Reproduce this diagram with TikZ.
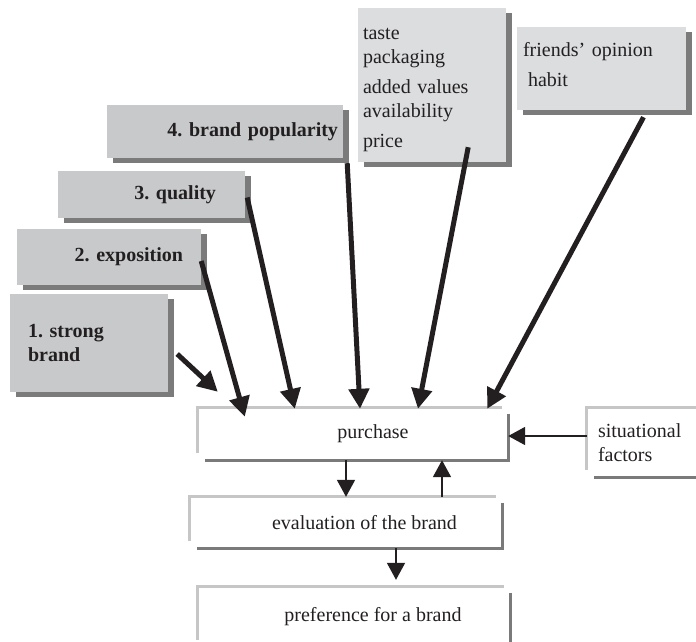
\documentclass[tikz,border=0pt]{standalone}
\usepackage{fontspec}
\setmainfont{Liberation Serif}
\usepackage{tikz}
\usetikzlibrary{arrows.meta,shadows}
\frenchspacing

\definecolor{boxgrey}{HTML}{C8C9CB}
\definecolor{palegrey}{HTML}{DCDDDF}
\definecolor{shadowgrey}{HTML}{7B7B7B}
\definecolor{edgelight}{HTML}{C6C6C6}
\definecolor{edgedark}{HTML}{7A7A7A}
\definecolor{inkblack}{HTML}{231F20}

\begin{document}
\begin{tikzpicture}[x=1pt, y=-1pt, text=inkblack,
	font=\fontsize{20}{24}\selectfont,
	greybox/.style={fill=boxgrey, inner ysep=0pt, font=\fontsize{20}{24}\selectfont\bfseries,
		drop shadow={shadow xshift=6pt, shadow yshift=-5pt, fill=shadowgrey, opacity=1}},
	palebox/.style={greybox, fill=palegrey, font=\fontsize{20}{24}\selectfont, align=left},
	plainbox/.style={inner sep=0pt},
	lightedge/.style={draw=edgelight, line width=3pt},
	darkedge/.style={draw=edgedark, line width=3pt},
	bigarrow/.style={-{Triangle[length=20pt, width=20pt]}, line width=5pt, draw=inkblack},
	smallarrow/.style={-{Triangle[length=17pt, width=18pt]}, line width=1.8pt, draw=inkblack}]
\useasboundingbox (0,0) rectangle (696,641);

\node[palebox, inner xsep=5pt, text width=138pt, minimum height=154pt] (taste) at (432,85)
	{\rule{0pt}{22pt}taste\\ packaging\\[6pt] added values\\ availability\\[6pt] price};
\node[palebox, inner xsep=6pt, text width=157pt, minimum height=83pt] (friends) at (601.5,68.5)
	{friends'{} opinion\\[6pt] \hspace*{5pt}habit\par\vspace*{8pt}};
\node[greybox, inner xsep=5pt, text width=226pt, minimum height=53pt, align=right] (pop) at (225,131.5)
	{4. brand popularity};
\node[greybox, inner xsep=29pt, text width=129pt, minimum height=47pt, align=right] (quality) at (151.5,194.5)
	{3. quality};
\node[greybox, inner xsep=18pt, text width=148pt, minimum height=56pt, align=right] (expo) at (109,257)
	{2. exposition};
\node[greybox, inner xsep=18pt, text width=122pt, minimum height=98pt, align=left] (strong) at (89,343)
	{1. strong\\ brand};

\node[plainbox, minimum width=310pt, minimum height=52pt] (purchase) at (353,434)
	{\hspace*{40pt}purchase};
\node[plainbox, minimum width=312pt, minimum height=51pt] (eval) at (346,522.5)
	{\hspace*{37pt}evaluation of the brand};
\node[plainbox, minimum width=312pt, minimum height=60pt] (pref) at (354,617)
	{\hspace*{38pt}preference for a brand};
\node[plainbox, inner xsep=11pt, text width=108pt, minimum height=69pt, align=left] (sit) at (652,442.5)
	{situational\\ factors};

\draw[lightedge] ([yshift=7pt]purchase.south west) -- (purchase.north west) -- ([xshift=-6pt]purchase.north east);
\draw[darkedge] ([yshift=-6pt]purchase.north east) -- (purchase.south east) -- ([xshift=7pt]purchase.south west);
\draw[lightedge] ([yshift=7pt]eval.south west) -- (eval.north west) -- ([xshift=-6pt]eval.north east);
\draw[darkedge] ([yshift=-6pt]eval.north east) -- (eval.south east) -- ([xshift=7pt]eval.south west);
\draw[lightedge] ([yshift=7pt]pref.south west) -- (pref.north west) -- ([xshift=-6pt]pref.north east);
\draw[darkedge] ([yshift=-6pt]pref.north east) -- (pref.south east) -- ([xshift=7pt]pref.south west);
\draw[lightedge] ([yshift=7pt]sit.south west) -- (sit.north west) -- (sit.north east);
\draw[darkedge] (sit.south east) -- ([xshift=7pt]sit.south west);

\draw[bigarrow] ([xshift=9pt, yshift=-11pt]strong.east) -- ([xshift=20pt, yshift=16pt]purchase.north west);
\draw[bigarrow] ([yshift=-4pt]expo.east) -- ([xshift=47pt, yshift=-9pt]purchase.north west);
\draw[bigarrow] ([xshift=2pt, yshift=-3pt]quality.east) -- ([xshift=97pt, yshift=-1pt]purchase.north west);
\draw[bigarrow] ([xshift=4pt, yshift=-5pt]pop.south east) -- ([xshift=7pt, yshift=-1pt]purchase.north);
\draw[bigarrow] ([xshift=-38pt, yshift=15pt]taste.south east) -- ([xshift=65pt, yshift=-1pt]purchase.north);
\draw[bigarrow] ([xshift=42pt, yshift=-7pt]friends.south) -- ([xshift=-21pt, yshift=-1pt]purchase.north east);

\draw[smallarrow] ([yshift=-2pt]sit.west |- purchase.east) -- ([yshift=-2pt]purchase.east);
\draw[smallarrow] ([xshift=-7pt]purchase.south) -- ([xshift=-7pt]purchase.south |- eval.north);
\draw[smallarrow] ([xshift=89pt]purchase.south |- eval.north) -- ([xshift=89pt]purchase.south);
\draw[smallarrow] ([xshift=50pt]eval.south) -- ([xshift=42pt, yshift=7pt]pref.north);
\end{tikzpicture}
\end{document}
